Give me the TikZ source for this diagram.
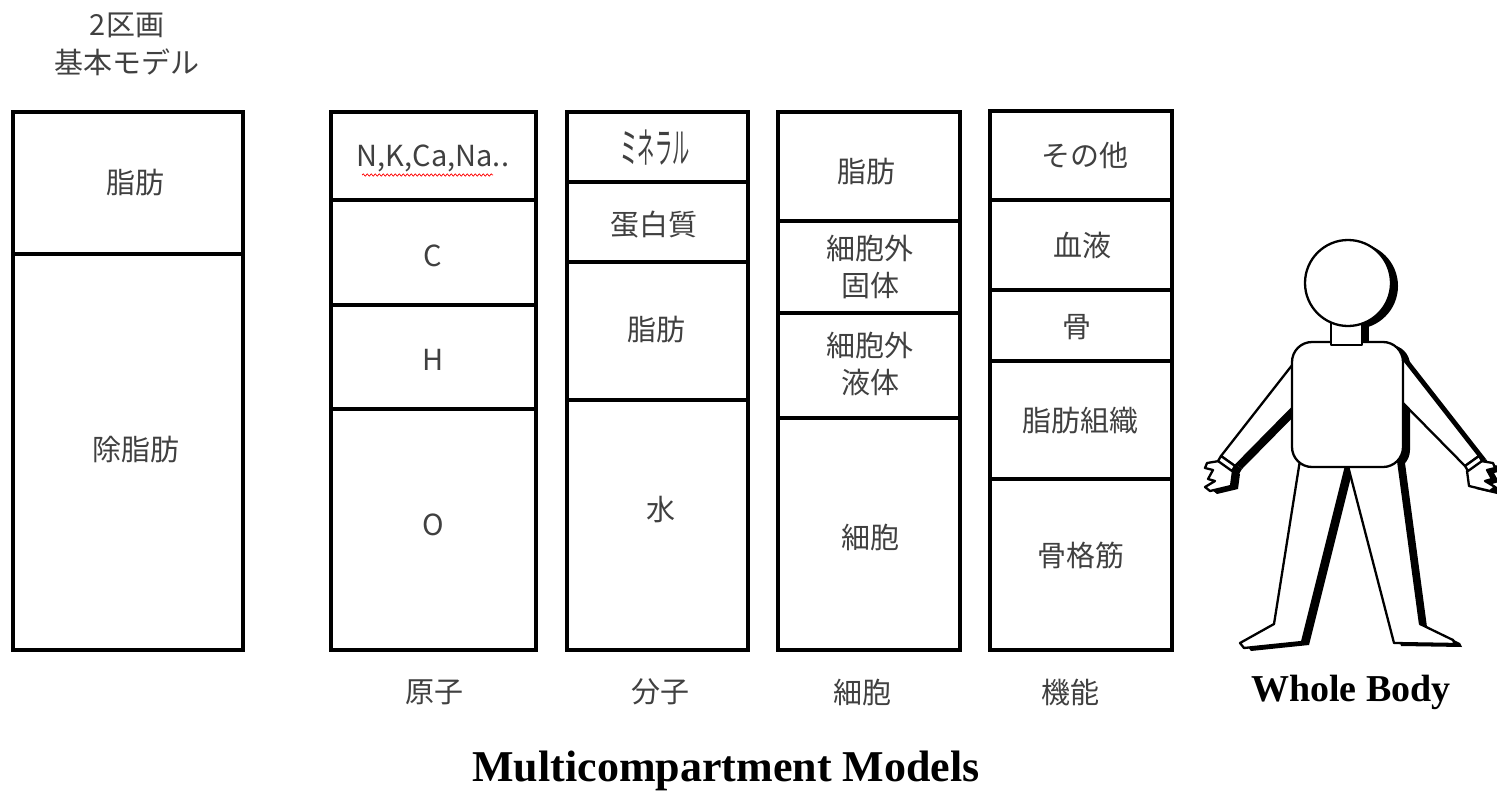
\documentclass[tikz,border=0pt]{standalone}
\usepackage{fontspec}
\newfontfamily\jp{Noto Sans CJK JP}
\newfontfamily\tnr{Liberation Serif}
\usetikzlibrary{decorations.pathmorphing}
\definecolor{labelgray}{HTML}{404040}

% parts of the body figure, drawn once as shadow and once as outline
\newcommand{\bodyparts}[1]{%
  % legs
  \path[#1] (1300,460) -- (1274,624) -- (1240,643) -- (1244,648) -- (1302,642) -- (1346,466) -- cycle;
  \path[#1] (1348,466) -- (1394,643) -- (1455,644) -- (1453,640) -- (1420,624) -- (1398,460) -- cycle;
  % arms
  \path[#1] (1300,355) -- (1221,456) -- (1235,466) -- (1300,400) -- cycle;
  \path[#1] (1400,355) -- (1479,456) -- (1465,466) -- (1400,400) -- cycle;
  % hands
  \path[#1] (1219,461) -- (1207,463) -- (1205,468) -- (1213,470) -- (1208,479) -- (1215,481)
            -- (1205,487) -- (1210,491) -- (1231,486) -- (1233,471) -- cycle;
  \path[#1] (1481,461) -- (1493,463) -- (1495,468) -- (1487,470) -- (1492,479) -- (1485,481)
            -- (1495,487) -- (1490,491) -- (1469,486) -- (1467,471) -- cycle;
  % cuffs
  \path[#1] (1221,456) -- (1235,466) -- (1232,471) -- (1218,461) -- cycle;
  \path[#1] (1479,456) -- (1465,466) -- (1468,471) -- (1482,461) -- cycle;
  % trunk, neck, head
  \path[#1, rounded corners=20pt] (1292,342) rectangle (1403,467);
  \path[#1] (1331,320) rectangle (1362,345);
  \path[#1] (1348,283) circle[radius=43];
}

\begin{document}
\begin{tikzpicture}[x=1pt,y=-1pt,
  col/.style={draw=black, line width=4pt, line join=miter},
  sep/.style={draw=black, line width=4pt},
  lbl/.style={font={\jp\fontsize{29}{37}\selectfont}, text=labelgray, align=center, inner sep=0pt},
  title/.style={font={\tnr\bfseries\fontsize{#1}{#1}\selectfont}, text=black, inner sep=0pt},
  shade/.style={fill=black},
  outline/.style={fill=white, draw=black, line width=2.3pt, line join=round}]
\useasboundingbox (0,0) rectangle (1497,795);

% header of the two-compartment column
\node[lbl] (hdrA) at (127,25) {2区画};
\node[lbl] (hdrB) at (127,62) {基本モデル};

% column 1: basic model
\draw[col] (13,112) rectangle (243,650);
\draw[sep] (13,254) -- (243,254);
\node[lbl] (c1a) at (135,183) {脂肪};
\node[lbl] (c1b) at (136,450) {除脂肪};

% column 2: atoms
\draw[col] (331,112) rectangle (536,650);
\draw[sep] (331,200) -- (536,200);
\draw[sep] (331,305) -- (536,305);
\draw[sep] (331,409) -- (536,409);
\node[lbl] (c2a) at (433,158) {N,K,Ca,Na..};
\draw[red, line width=0.7pt, decorate, decoration={snake, amplitude=1.2pt, segment length=4pt}]
  (362,175) -- (493,175);
\node[lbl] (c2b) at (433,256) {C};
\node[lbl] (c2c) at (433,360) {H};
\node[lbl] (c2d) at (433,525) {O};
\node[lbl] (c2l) at (434,692) {原子};

% column 3: molecules (narrow katakana)
\draw[col] (567,112) rectangle (748,650);
\draw[sep] (567,182) -- (748,182);
\draw[sep] (567,262) -- (748,262);
\draw[sep] (567,400) -- (748,400);
\node[lbl, font={\jp\fontsize{42}{44}\selectfont}, xscale=0.41] (c3a) at (655,148) {ミネラル};
\node[lbl] (c3b) at (654,225) {蛋白質};
\node[lbl] (c3c) at (656,330) {脂肪};
\node[lbl] (c3d) at (661,510) {水};
\node[lbl] (c3l) at (660,692) {分子};

% column 4: cells
\draw[col] (778,112) rectangle (960,650);
\draw[sep] (778,221) -- (960,221);
\draw[sep] (778,313) -- (960,313);
\draw[sep] (778,418) -- (960,418);
\node[lbl] (c4a) at (866,172) {脂肪};
\node[lbl] (c4b) at (870,267) {細胞外\\固体};
\node[lbl] (c4c) at (870,364) {細胞外\\液体};
\node[lbl] (c4d) at (870,537) {細胞};
\node[lbl] (c4l) at (862,692) {細胞};

% column 5: functional
\draw[col] (990,111) rectangle (1172,650);
\draw[sep] (990,200) -- (1172,200);
\draw[sep] (990,290) -- (1172,290);
\draw[sep] (990,361) -- (1172,361);
\draw[sep] (990,479) -- (1172,479);
\node[lbl] (c5a) at (1085,155) {その他};
\node[lbl] (c5b) at (1082,245) {血液};
\node[lbl] (c5c) at (1077,327) {骨};
\node[lbl] (c5d) at (1080,421) {脂肪組織};
\node[lbl] (c5e) at (1081,555) {骨格筋};
\node[lbl] (c5l) at (1070,692) {機能};

% whole body figure with drop shadow
\begin{scope}[shift={(7,3)}]
  \bodyparts{shade}
\end{scope}
\bodyparts{outline}

\node[title=38] (whole) at (1351,692) {Whole Body};
\node[title=44] (multi) at (726,771) {Multicompartment Models};
\end{tikzpicture}
\end{document}
